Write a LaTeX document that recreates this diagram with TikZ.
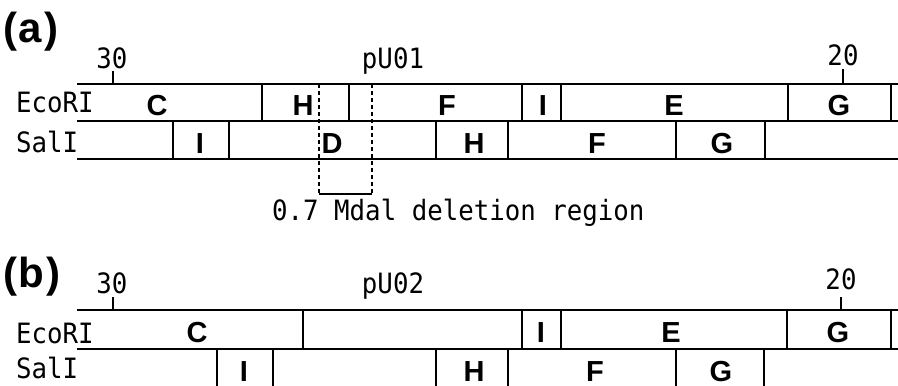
\documentclass[tikz,border=0pt]{standalone}
\usepackage{fontspec}
\setmainfont{Liberation Sans}
\newfontfamily\mapmono[FakeStretch=0.92]{DejaVu Sans Mono}
\begin{document}
\begin{tikzpicture}[x=1pt,y=-1pt,
  rail/.style={line width=2.7pt},
  cut/.style={line width=2.4pt},
  tick/.style={line width=2.2pt},
  gap/.style={line width=2.4pt,dash pattern=on 4pt off 3pt},
  mono/.style={inner sep=0pt,font=\mapmono\fontsize{28}{28}\selectfont},
  frag/.style={inner sep=0pt,anchor=base,font=\fontsize{29}{29}\selectfont\bfseries},
  panel/.style={inner sep=0pt,anchor=base west,font=\fontsize{42}{42}\selectfont\bfseries}]
\useasboundingbox (0,0) rectangle (898,386);
\fill[white] (0,0) rectangle (898,386);

% ---------------- panel (a) ----------------
\node[panel] (pa) at (3,42) {(\kern1.5pt a\kern2pt)};
\node[mono,anchor=base] (a30) at (112,68) {30};
\node[mono,anchor=base] (apu) at (393,68) {pU01};
\node[mono,anchor=base] (a20) at (843,65) {20};
\node[mono,anchor=base west] (aeco) at (16,112) {EcoRI};
\node[mono,anchor=base west] (asal) at (16,152) {SalI};

% rails
\draw[rail] (77,84) -- (898,84);
\draw[rail] (77,121) -- (898,121);
\draw[rail] (77,159) -- (898,159);
% map ticks
\draw[tick] (113,71) -- (113,84);
\draw[tick] (843,69) -- (843,84);

% EcoRI cut sites
\foreach \x in {262,349,522,561,788,891}
  \draw[cut] (\x,84) -- (\x,121);
% SalI cut sites
\foreach \x in {173,229,436,508,676,765}
  \draw[cut] (\x,121) -- (\x,159);

% EcoRI fragments
\node[frag] (aeC) at (157,115) {C};
\node[frag] (aeH) at (303,115) {H};
\node[frag] (aeF) at (447,115) {F};
\node[frag] (aeI) at (543,115) {I};
\node[frag] (aeE) at (674,115) {E};
\node[frag] (aeG) at (839,115) {G};
% SalI fragments
\node[frag] (asI) at (200,153) {I};
\node[frag] (asD) at (332,153) {D};
\node[frag] (asH) at (474,153) {H};
\node[frag] (asF) at (597,153) {F};
\node[frag] (asG) at (722,153) {G};

% deletion bracket
\draw[gap] (319,84) -- (319,194);
\draw[gap] (372,84) -- (372,194);
\draw[tick] (319,194) -- (372,194);
\node[mono,anchor=base west] (del) at (272,220) {0.7 Mdal deletion region};

% ---------------- panel (b) ----------------
\node[panel] (pb) at (3,287) {(\kern1.5pt b\kern2pt)};
\node[mono,anchor=base] (b30) at (112,293) {30};
\node[mono,anchor=base] (bpu) at (393,293) {pU02};
\node[mono,anchor=base] (b20) at (841,289) {20};
\node[mono,anchor=base west] (beco) at (16,343) {EcoRI};
\node[mono,anchor=base west] (bsal) at (16,378) {SalI};

\draw[rail] (77,310) -- (898,310);
\draw[rail] (77,349) -- (898,349);
\draw[tick] (113,297) -- (113,310);
\draw[tick] (841,297) -- (841,310);

\foreach \x in {303,522,561,787,891}
  \draw[cut] (\x,310) -- (\x,349);
\foreach \x in {217,273,436,508,676,764}
  \draw[cut] (\x,349) -- (\x,386);

\node[frag] (beC) at (197,342) {C};
\node[frag] (beI) at (541,342) {I};
\node[frag] (beE) at (671,342) {E};
\node[frag] (beG) at (838,342) {G};
\node[frag] (bsI) at (244,381) {I};
\node[frag] (bsH) at (474,381) {H};
\node[frag] (bsF) at (595,381) {F};
\node[frag] (bsG) at (721,381) {G};
\end{tikzpicture}
\end{document}
